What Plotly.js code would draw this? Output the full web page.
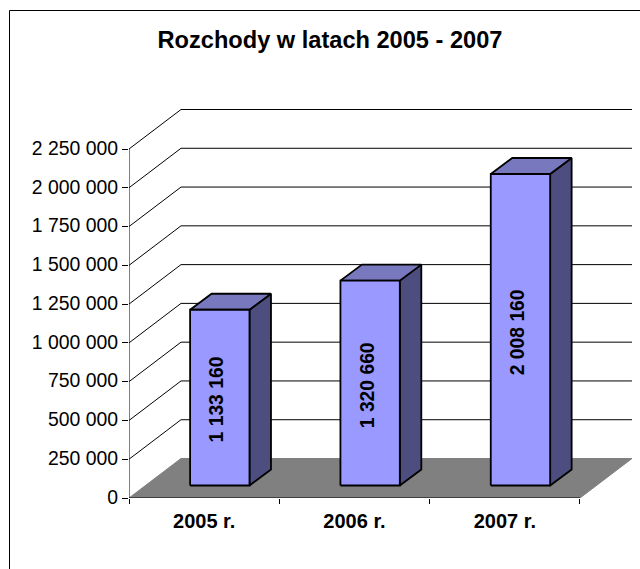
<!DOCTYPE html>
<html>
<head>
<meta charset="utf-8">
<script src="https://cdn.plot.ly/plotly-3.0.1.min.js"></script>
<style>html,body{margin:0;padding:0;background:#fff;overflow:hidden}</style>
</head>
<body>
<div id="chart" style="width:640px;height:569px"></div>
<script>
const categories = ['2005 r.', '2006 r.', '2007 r.'];
const expenses = [1133160, 1320660, 2008160];
const expenseLabels = ['1 133 160', '1 320 660', '2 008 160'];
const yTickValues = [0, 250000, 500000, 750000, 1000000, 1250000, 1500000, 1750000, 2000000, 2250000];
const yTickLabels = ['0', '250 000', '500 000', '750 000', '1 000 000', '1 250 000', '1 500 000', '1 750 000', '2 000 000', '2 250 000'];

// Plot geometry in pixels
const W = 640, H = 569;
const left = 129, right = 633, top_ = 105, bottom = 498;
const pxPerCat = 150.33;
const pxPerVal = 349 / 2250000;
const FONT = '"Liberation Sans", Arial, sans-serif';
const xv = px => px / pxPerCat;          // pixels to category units
const yv = px => px / pxPerVal;          // pixels to value units

const floorDx = xv(52), floorDy = yv(39.5);
const barW = 0.395, barStart = 0.3 + xv(16), barDx = xv(21.5), barDy = yv(16), barLift = yv(12.5);

const traces = [];
function poly(xs, ys, fill, lineColor, lineWidth) {
  traces.push({
    type: 'scatter', mode: 'lines', x: xs.concat(xs[0]), y: ys.concat(ys[0]),
    fill: 'toself', fillcolor: fill, line: {color: lineColor, width: lineWidth},
    hoverinfo: 'skip', showlegend: false, cliponaxis: false
  });
}
function path(xs, ys, color, width) {
  traces.push({
    type: 'scatter', mode: 'lines', x: xs, y: ys, line: {color: color, width: width},
    hoverinfo: 'skip', showlegend: false, cliponaxis: false
  });
}

// Floor
const nCat = categories.length;
poly([0, floorDx, nCat + floorDx, nCat], [0, floorDy, floorDy, 0], '#808080', '#808080', 1);
// Walls gridlines
yTickValues.forEach(v => {
  if (v > 0) path([0, floorDx, nCat + floorDx], [v, v + floorDy, v + floorDy], '#000000', 1);
});
// Axis lines
path([0, 0], [0, 2250000], '#000000', 1);
path([0, nCat], [0, 0], '#000000', 1);

// Bars
const outline = 1.8;
expenses.forEach((val, i) => {
  const x0 = i + barStart, x1 = x0 + barW;
  const y0 = barLift, y1 = barLift + val;
  poly([x1, x1 + barDx, x1 + barDx, x1], [y0, y0 + barDy, y1 + barDy, y1], '#4D4D80', '#000000', outline);
  poly([x0, x1, x1 + barDx, x0 + barDx], [y1, y1, y1 + barDy, y1 + barDy], '#7878BF', '#000000', outline);
  poly([x0, x1, x1, x0], [y0, y0, y1, y1], '#9999FF', '#000000', outline);
});

const annotations = expenses.map((val, i) => ({
  x: i + barStart + barW / 2 - xv(3), y: barLift + val / 2 - yv(2),
  xref: 'x', yref: 'y', text: expenseLabels[i], textangle: -90, showarrow: false,
  font: {family: FONT, size: 19.3, color: '#000', weight: 700}
}));

const plotH = bottom - top_, plotW = right - left;
const px2x = p => (p - left) / plotW;
const py2y = p => (bottom - p) / plotH;

const layout = {
  width: W, height: H,
  paper_bgcolor: '#fff', plot_bgcolor: 'rgba(0,0,0,0)',
  margin: {l: left, r: W - right, t: top_, b: H - bottom, pad: 0, autoexpand: false},
  showlegend: false,
  title: {
    text: '<b>Rozchody w latach 2005 - 2007</b>',
    x: 330 / W, xanchor: 'center', xref: 'container',
    y: 1 - 40 / H, yanchor: 'middle', yref: 'container',
    font: {family: FONT, size: 23.6, color: '#000'}
  },
  xaxis: {
    type: 'linear', range: [0, plotW / pxPerCat], fixedrange: true,
    showgrid: false, zeroline: false, showline: false,
    tickmode: 'array', tickvals: [0.5, 1.5, 2.5], ticktext: categories.map(c => '<b>' + c + '</b>'),
    ticks: '', ticklen: 0, ticklabelstandoff: 9,
    tickfont: {family: FONT, size: 20, color: '#000'},
    minor: {tickmode: 'array', tickvals: [0, 1, 2, 3], ticks: 'outside', ticklen: 5, tickwidth: 1, tickcolor: '#000', showgrid: false}
  },
  yaxis: {
    type: 'linear', range: [0, plotH / pxPerVal], fixedrange: true,
    showgrid: false, zeroline: false, showline: false,
    tickmode: 'array', tickvals: yTickValues, ticktext: yTickLabels,
    ticks: 'outside', ticklen: 6, tickwidth: 1, tickcolor: '#000',
    ticklabelshift: -1,
    tickfont: {family: FONT, size: 19.4, color: '#000'}
  },
  annotations: annotations,
  shapes: [
    {type: 'line', xref: 'paper', yref: 'paper', x0: px2x(9.5), x1: px2x(640), y0: py2y(10.5), y1: py2y(10.5), line: {color: '#000', width: 1}, layer: 'below'},
    {type: 'line', xref: 'paper', yref: 'paper', x0: px2x(9.5), x1: px2x(9.5), y0: py2y(10.5), y1: py2y(590), line: {color: '#000', width: 1}, layer: 'below'}
  ]
};
Plotly.newPlot('chart', traces, layout, {displayModeBar: false, staticPlot: true});
</script>
</body>
</html>
